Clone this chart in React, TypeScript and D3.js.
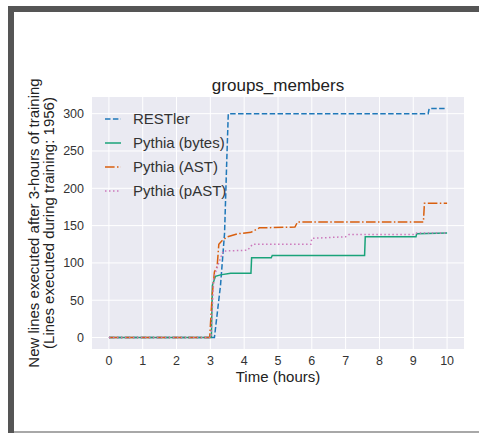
import React, { useRef, useEffect } from 'react';
import * as d3 from 'd3';

const title = 'groups_members';
const xTicks = [0, 1, 2, 3, 4, 5, 6, 7, 8, 9, 10];
const yTicks = [0, 50, 100, 150, 200, 250, 300];

// time (hours) and lines covered for each tool
const restlerT = [0, 3.12, 3.3, 3.42, 3.48, 3.53, 9.44, 9.47, 10];
const restlerV = [0, 0, 70, 140, 230, 300, 300, 307, 307];

const bytesT = [0, 3.03, 3.06, 3.15, 3.3, 3.6, 4.2, 4.22, 4.8, 4.83, 7.56, 7.58, 9.08, 9.1, 10];
const bytesV = [0, 0, 70, 82, 84, 86, 86, 107, 107, 110, 110, 135, 135, 139, 140];

const astT = [0, 2.98, 3.05, 3.12, 3.2, 3.25, 3.35, 3.5, 3.8, 4.2, 4.45, 5.5, 5.58, 9.3, 9.33, 10];
const astV = [0, 0, 55, 88, 95, 125, 130, 135, 139, 141, 147, 148, 155, 155, 180, 180];

const pastT = [0, 3.02, 3.1, 3.24, 3.38, 4.1, 4.25, 5.97, 6.0, 7.0, 7.1, 9.05, 9.1, 10];
const pastV = [0, 0, 80, 99, 116, 117, 125, 125, 133, 135, 138, 138, 140, 140];

const series = [
  { name: 'RESTler', t: restlerT, v: restlerV, color: '#1f78b9', dash: '5.5,2.4' },
  { name: 'Pythia (bytes)', t: bytesT, v: bytesV, color: '#1aa37a', dash: null },
  { name: 'Pythia (AST)', t: astT, v: astV, color: '#d95f0e', dash: '9.6,2.4,1.5,2.4' },
  { name: 'Pythia (pAST)', t: pastT, v: pastV, color: '#cc78bc', dash: '1.5,2.5' },
];

const width = 479;
const height = 433;
const font = '"Liberation Sans", Arial, sans-serif';

const Chart = () => {
  const svgRef = useRef<SVGSVGElement>(null);

  useEffect(() => {
    const margin = { top: 97, right: 15, bottom: 84, left: 92 };
    const svg = d3.select(svgRef.current);
    svg.selectAll('*').remove();

    // frame around the figure
    svg.append('rect').attr('x', 8).attr('y', 6).attr('width', 471).attr('height', 6).attr('fill', '#555');
    svg.append('rect').attr('x', 8).attr('y', 6).attr('width', 6).attr('height', 427).attr('fill', '#555');
    svg.append('rect').attr('x', 14).attr('y', 431).attr('width', 465).attr('height', 2).attr('fill', '#a8a8a8');

    const x = d3.scaleLinear().domain([-0.5, 10.5]).range([margin.left, width - margin.right]);
    const y = d3.scaleLinear().domain([-15.35, 322.35]).range([height - margin.bottom, margin.top]);

    svg
      .append('rect')
      .attr('x', margin.left)
      .attr('y', margin.top)
      .attr('width', width - margin.right - margin.left)
      .attr('height', height - margin.bottom - margin.top)
      .attr('fill', '#eaeaf2');

    const grid = svg.append('g').attr('stroke', '#fff').attr('stroke-width', 1);
    grid
      .selectAll('.gx')
      .data(xTicks)
      .enter()
      .append('line')
      .attr('x1', d => x(d))
      .attr('x2', d => x(d))
      .attr('y1', margin.top)
      .attr('y2', height - margin.bottom);
    grid
      .selectAll('.gy')
      .data(yTicks)
      .enter()
      .append('line')
      .attr('y1', d => y(d))
      .attr('y2', d => y(d))
      .attr('x1', margin.left)
      .attr('x2', width - margin.right);

    // tick labels
    svg
      .selectAll('.xt')
      .data(xTicks)
      .enter()
      .append('text')
      .attr('x', d => x(d))
      .attr('y', 365)
      .attr('text-anchor', 'middle')
      .attr('font-size', 12.5)
      .attr('font-family', font)
      .attr('fill', '#333')
      .text(d => d);
    svg
      .selectAll('.yt')
      .data(yTicks)
      .enter()
      .append('text')
      .attr('x', 84)
      .attr('y', d => y(d))
      .attr('dy', '0.35em')
      .attr('text-anchor', 'end')
      .attr('font-size', 12.5)
      .attr('font-family', font)
      .attr('fill', '#333')
      .text(d => d);

    const line = d3
      .line<number>()
      .x(d => d[0])
      .y(d => d[1]);

    series.forEach(s => {
      const pts = s.t.map((t, i) => [x(t), y(s.v[i])]);
      svg
        .append('path')
        .datum(pts)
        .attr('fill', 'none')
        .attr('stroke', s.color)
        .attr('stroke-width', 1.5)
        .attr('stroke-dasharray', s.dash)
        .attr('d', line as any);
    });

    // legend
    const lg = svg.append('g').attr('font-family', font).attr('font-size', 15);
    series.forEach((s, i) => {
      const yy = 119 + i * 24;
      lg.append('line')
        .attr('x1', 105)
        .attr('x2', 121)
        .attr('y1', yy)
        .attr('y2', yy)
        .attr('stroke', s.color)
        .attr('stroke-width', 1.5)
        .attr('stroke-dasharray', s.dash);
      lg.append('text').attr('x', 133).attr('y', yy).attr('dy', '0.35em').attr('fill', '#333').text(s.name);
    });

    svg
      .append('text')
      .attr('x', x(5))
      .attr('y', 91)
      .attr('text-anchor', 'middle')
      .attr('font-size', 17)
      .attr('font-family', font)
      .attr('fill', '#222')
      .text(title);

    svg
      .append('text')
      .attr('x', x(5))
      .attr('y', 382)
      .attr('text-anchor', 'middle')
      .attr('font-size', 15)
      .attr('font-family', font)
      .attr('fill', '#222')
      .text('Time (hours)');

    const cy = (margin.top + height - margin.bottom) / 2;
    const yl = svg
      .append('text')
      .attr('transform', `translate(0,${cy}) rotate(-90)`)
      .attr('text-anchor', 'middle')
      .attr('font-size', 15)
      .attr('font-family', font)
      .attr('fill', '#222');
    yl.append('tspan').attr('x', 0).attr('y', 38.5).text('New lines executed after 3-hours of training');
    yl.append('tspan').attr('x', 0).attr('y', 53.5).text('(Lines executed during training: 1956)');
  }, []);

  return (
    <svg
      ref={svgRef}
      width={width}
      height={height}
      style={{ position: 'absolute', left: 0, top: 0, background: '#fff' }}
    ></svg>
  );
};

export default function App() {
  return <Chart />;
}
